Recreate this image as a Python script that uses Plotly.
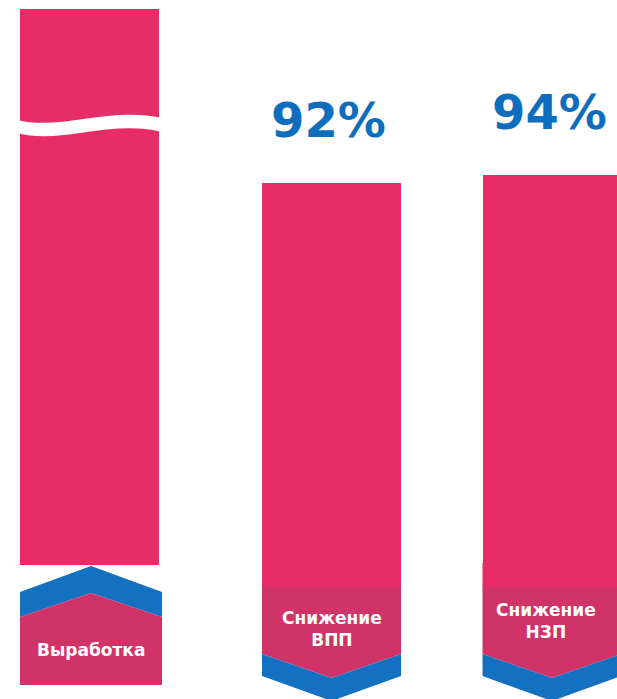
import plotly.graph_objects as go

# ---- data ----
categories = ["Выработка", "Снижение ВПП", "Снижение НЗП"]
tab_labels = ["Выработка", "Снижение<br>ВПП", "Снижение<br>НЗП"]
values = [134, 92, 94]          # bar 1 is shown with a scale break
value_labels = ["", "92%", "94%"]

# ---- layout constants (pixels) ----
W, H = 617, 699
PX_PER_UNIT = 4.151
BASE_PX = 565
x_pos = [89.5, 331.5, 552]
bar_w = 139

PINK = "#E72C67"
PINK_DARK = "#CF3368"
BLUE = "#1470C0"
TXT_BLUE = "#0F6DBE"


def P(x, y):
    return f"{x / W:.5f},{1 - y / H:.5f}"


def path(points):
    return "M " + " L ".join(P(x, y) for x, y in points) + " Z"


fig = go.Figure()
fig.add_trace(go.Bar(
    x=x_pos, y=values, width=bar_w,
    marker=dict(color=PINK, line=dict(width=0)),
    hoverinfo="skip", showlegend=False,
))

shapes = []
# wavy break on first bar
wave = ("M " + P(17, 120) + " C " + P(60, 131) + " " + P(110, 106) + " " + P(162, 118)
        + " L " + P(162, 132) + " C " + P(110, 119) + " " + P(60, 145) + " " + P(17, 133) + " Z")
shapes.append(dict(type="path", xref="paper", yref="paper", path=wave,
                   fillcolor="white", line=dict(width=0), layer="above"))

# tab for bar 1 (below, pointed up)
L0, R0 = x_pos[0] - bar_w / 2, x_pos[0] + bar_w / 2 + 3
C0 = (L0 + R0) / 2
shapes.append(dict(type="path", xref="paper", yref="paper",
                   path=path([(L0, 592), (C0, 566), (R0, 592), (R0, 617), (C0, 593), (L0, 617)]),
                   fillcolor=BLUE, line=dict(width=0)))
shapes.append(dict(type="path", xref="paper", yref="paper",
                   path=path([(L0, 617), (C0, 593), (R0, 617), (R0, 685), (L0, 685)]),
                   fillcolor=PINK_DARK, line=dict(width=0)))

# tabs for bars 2 and 3 (pointed down)
for i in (1, 2):
    L, R = x_pos[i] - bar_w / 2, x_pos[i] + bar_w / 2
    C = x_pos[i]
    shapes.append(dict(type="path", xref="paper", yref="paper",
                       path=path([(L, BASE_PX - 2), (R, BASE_PX - 2), (R, 588), (L, 588)]),
                       fillcolor=PINK, line=dict(width=0)))
    shapes.append(dict(type="path", xref="paper", yref="paper",
                       path=path([(L, 587), (R, 587), (R, 654), (C, 678), (L, 654)]),
                       fillcolor=PINK_DARK, line=dict(width=0)))
    shapes.append(dict(type="path", xref="paper", yref="paper",
                       path=path([(L, 654), (C, 678), (R, 654), (R, 676), (C, 701), (L, 676)]),
                       fillcolor=BLUE, line=dict(width=0)))

annotations = []
for i, lab in enumerate(value_labels):
    if lab:
        annotations.append(dict(x=x_pos[i] - 3, y=values[i], xref="x", yref="y",
                                text=lab, showarrow=False, yanchor="bottom", yshift=33,
                                font=dict(family="DejaVu Sans", size=48, color=TXT_BLUE, weight="bold")))

tab_y = [650, 629, 621]
tab_x = [x_pos[0] + 1.5, x_pos[1], x_pos[2] - 6]
for i, lab in enumerate(tab_labels):
    annotations.append(dict(x=tab_x[i], y=1 - tab_y[i] / H, xref="x", yref="paper",
                            text=lab, showarrow=False, yanchor="middle",
                            font=dict(family="DejaVu Sans", size=17, color="white", weight="bold")))

fig.update_layout(
    width=W, height=H,
    margin=dict(l=0, r=0, t=0, b=0),
    paper_bgcolor="white", plot_bgcolor="white",
    xaxis=dict(range=[0, W], visible=False, fixedrange=True),
    yaxis=dict(range=[-(H - BASE_PX) / PX_PER_UNIT, BASE_PX / PX_PER_UNIT],
               visible=False, fixedrange=True),
    shapes=shapes, annotations=annotations,
    bargap=0,
)

fig.write_html("out.html", config={"displayModeBar": False},
               post_script="document.body.style.margin='0';document.body.style.overflow='hidden';")
